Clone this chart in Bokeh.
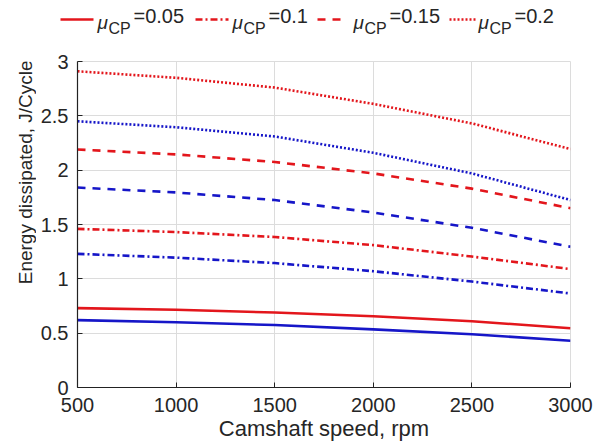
import math
from bokeh.plotting import figure
from bokeh.layouts import column, row
from bokeh.models import FixedTicker, Range1d
from bokeh.core.properties import value
from bokeh.embed import file_html
from bokeh.resources import INLINE

speed = [500, 1000, 1500, 2000, 2500, 3000]

red_005 = [0.73, 0.715, 0.69, 0.655, 0.61, 0.545]
blue_005 = [0.62, 0.60, 0.575, 0.535, 0.49, 0.43]
red_01 = [1.46, 1.43, 1.385, 1.31, 1.205, 1.09]
blue_01 = [1.23, 1.195, 1.145, 1.07, 0.975, 0.865]
red_015 = [2.19, 2.145, 2.075, 1.97, 1.83, 1.65]
blue_015 = [1.84, 1.795, 1.725, 1.61, 1.47, 1.295]
red_02 = [2.91, 2.85, 2.76, 2.61, 2.43, 2.195]
blue_02 = [2.45, 2.395, 2.31, 2.16, 1.97, 1.725]

legend_labels = ["=0.05", "=0.1", "=0.15", "=0.2"]
y_ticks = [0, 0.5, 1, 1.5, 2, 2.5, 3]

RED = "#e3161c"
BLUE = "#1616c8"
FONT = "Liberation Sans"
TXT = "#262626"
styles = ["solid", "7 3 2 3", "8 7", "2 2"]

# main plot
p = figure(width=564, height=400, output_backend="svg", toolbar_location=None,
           x_range=Range1d(500, 3000), y_range=Range1d(0, 3),
           min_border_left=41, min_border_right=30, min_border_top=15, min_border_bottom=59)
series = [(red_005, blue_005), (red_01, blue_01), (red_015, blue_015), (red_02, blue_02)]
for (r, b), dash in zip(series, styles):
    p.line(speed, r, line_color=RED, line_width=2.6, line_dash=dash)
    p.line(speed, b, line_color=BLUE, line_width=2.6, line_dash=dash)

p.xaxis.ticker = FixedTicker(ticks=speed)
p.yaxis.ticker = FixedTicker(ticks=y_ticks)
p.yaxis.major_label_overrides = {0: "0", 1: "1", 2: "2", 3: "3"}
for ax in (p.xaxis[0], p.yaxis[0]):
    ax.major_tick_in = 5
    ax.major_tick_out = 0
    ax.minor_tick_in = 0
    ax.minor_tick_out = 0
    ax.axis_line_color = "#222222"
    ax.axis_line_width = 1.2
    ax.major_tick_line_color = "#222222"
    ax.major_label_text_font = FONT
    ax.major_label_text_font_size = "20px"
    ax.major_label_text_color = TXT
    ax.axis_label_text_font = FONT
    ax.axis_label_text_font_style = "normal"
    ax.axis_label_text_color = TXT
p.xaxis.axis_label = "Camshaft speed, rpm"
p.xaxis.axis_label_text_font_size = "22px"
p.xaxis.axis_label_standoff = 1
p.xaxis.major_label_standoff = 10
p.yaxis.major_label_standoff = 9
p.grid.grid_line_color = "#dcdcdc"
p.grid.grid_line_width = 1
p.outline_line_color = "#dcdcdc"

# y-axis label strip (label sits above the frame centre, as in the reference)
yl = figure(width=36, height=400, output_backend="svg", toolbar_location=None,
            x_range=Range1d(0, 36), y_range=Range1d(400, 0),
            min_border=0, min_border_left=0, min_border_right=0,
            min_border_top=0, min_border_bottom=0)
yl.axis.visible = False
yl.grid.visible = False
yl.outline_line_color = None
yl.text([25], [136], text=["Energy dissipated, J/Cycle"], angle=math.pi / 2,
        text_font=value(FONT), text_font_size="19px", text_color=TXT,
        text_align="center", text_baseline="middle")

# legend strip
lg = figure(width=600, height=46, output_backend="svg", toolbar_location=None,
            x_range=Range1d(0, 600), y_range=Range1d(46, 0),
            min_border=0, min_border_left=0, min_border_right=0,
            min_border_top=0, min_border_bottom=0)
lg.axis.visible = False
lg.grid.visible = False
lg.outline_line_color = None
line_x0 = [60, 195, 317, 449]
line_x1 = [93, 228, 343, 476]
mu_x = [97, 232, 353, 478]
for i, (lab, dash) in enumerate(zip(legend_labels, styles)):
    lg.line([line_x0[i], line_x1[i]], [19, 19], line_color=RED, line_width=2.6, line_dash=dash)
    lg.text([mu_x[i]], [22], text=["μ"], text_font=value(FONT), text_font_size="19px",
            text_font_style="italic", text_color=TXT, text_baseline="middle")
    lg.text([mu_x[i] + 11], [28], text=["CP"], text_font=value(FONT), text_font_size="16px",
            text_color=TXT, text_baseline="middle")
    lg.text([mu_x[i] + 36], [15], text=[lab], text_font=value(FONT), text_font_size="20px",
            text_color=TXT, text_baseline="middle")

layout = column(lg, row(yl, p, spacing=0), spacing=0)
open("out.html", "w").write(file_html(layout, INLINE))
